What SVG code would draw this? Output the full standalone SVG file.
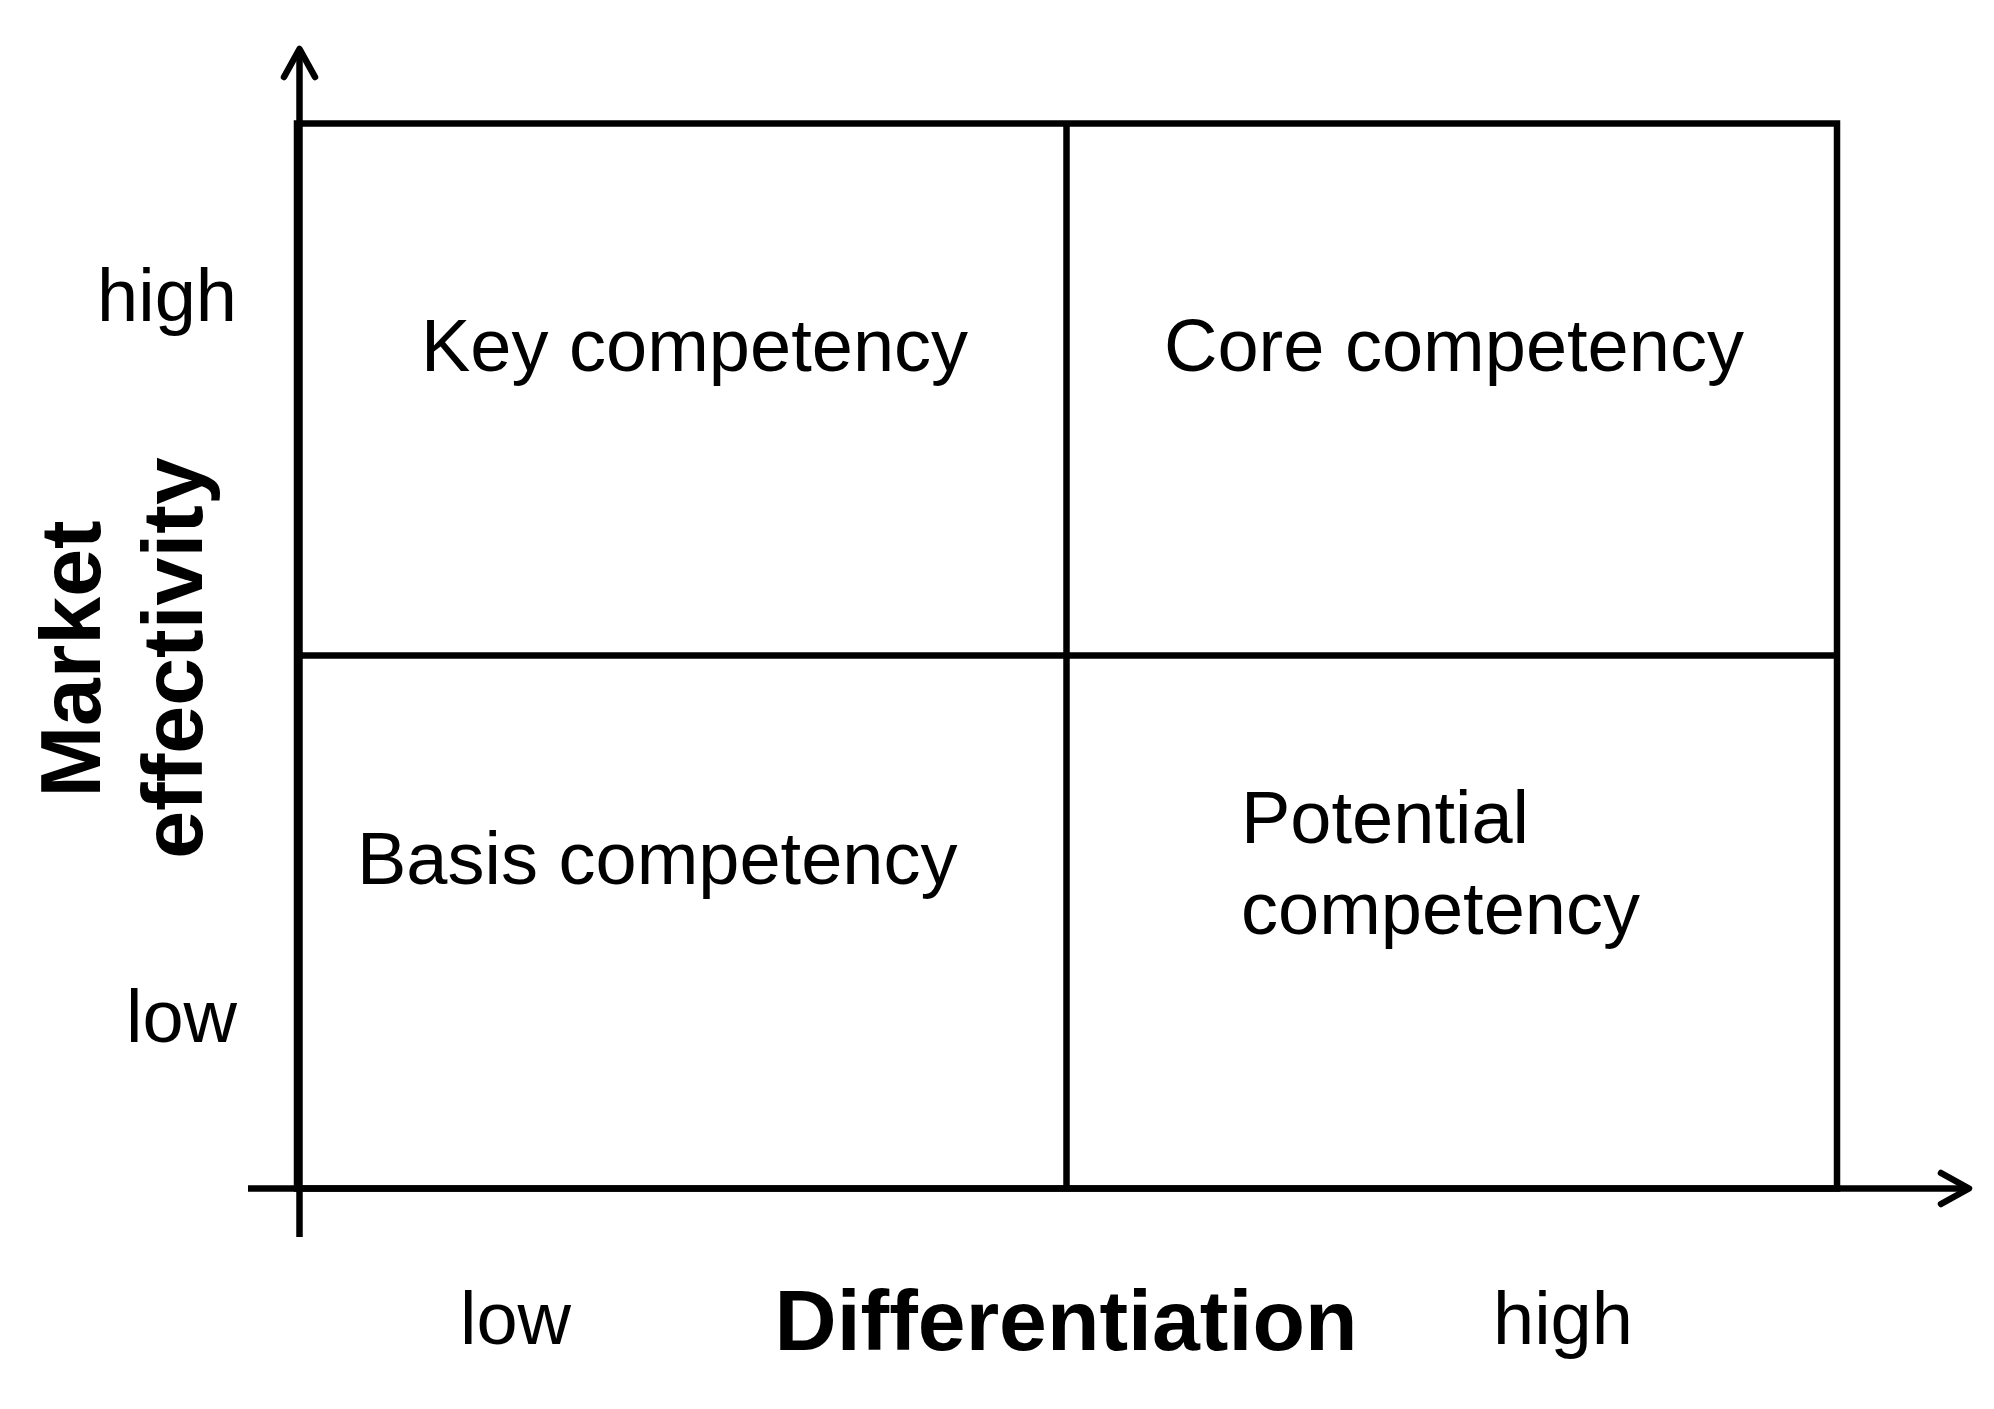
<svg xmlns="http://www.w3.org/2000/svg" width="1994" height="1409" viewBox="0 0 1994 1409">
<style>
.ln{stroke:#000;stroke-width:6.5;fill:none}
.ah{stroke:#000;stroke-width:6.5;fill:none;stroke-linecap:round;stroke-linejoin:round}
.t{font-family:"Liberation Sans",Arial,sans-serif;font-size:74px;fill:#000}
.b{font-family:"Liberation Sans",Arial,sans-serif;font-size:86px;font-weight:bold;fill:#000}
</style>
<rect width="1994" height="1409" fill="#fff"/>
<g id="grid">
<rect class="ln" x="297" y="123.5" width="1540" height="1065"/>
<line class="ln" x1="1066.5" y1="123.5" x2="1066.5" y2="1188.5"/>
<line class="ln" x1="297" y1="655.5" x2="1837" y2="655.5"/>
</g>
<g id="connectors">
<line class="ln" x1="299.5" y1="1237" x2="299.5" y2="50"/>
<polyline class="ah" points="284,77 299.5,49 315,77"/>
<line class="ln" x1="248" y1="1188.5" x2="1968" y2="1188.5"/>
<polyline class="ah" points="1941,1173 1969,1188.5 1941,1204"/>
</g>
<g id="key"><text class="t" x="421" y="371">Key competency</text></g>
<g id="core"><text class="t" x="1164" y="371">Core competency</text></g>
<g id="basis"><text class="t" x="357" y="884">Basis competency</text></g>
<g id="potential"><text class="t" x="1241" y="843">Potential</text><text class="t" x="1241" y="934">competency</text></g>
<g id="y-labels">
<text class="t" x="237" y="321" text-anchor="end">high</text>
<text class="t" x="237" y="1042" text-anchor="end">low</text>
<text class="b" transform="translate(100,659) rotate(-90)" text-anchor="middle">Market</text>
<text class="b" transform="translate(202,658) rotate(-90)" text-anchor="middle">effectivity</text>
</g>
<g id="x-labels">
<text class="t" x="460" y="1344">low</text>
<text class="b" x="1066" y="1350" text-anchor="middle">Differentiation</text>
<text class="t" x="1493" y="1344">high</text>
</g>
</svg>
